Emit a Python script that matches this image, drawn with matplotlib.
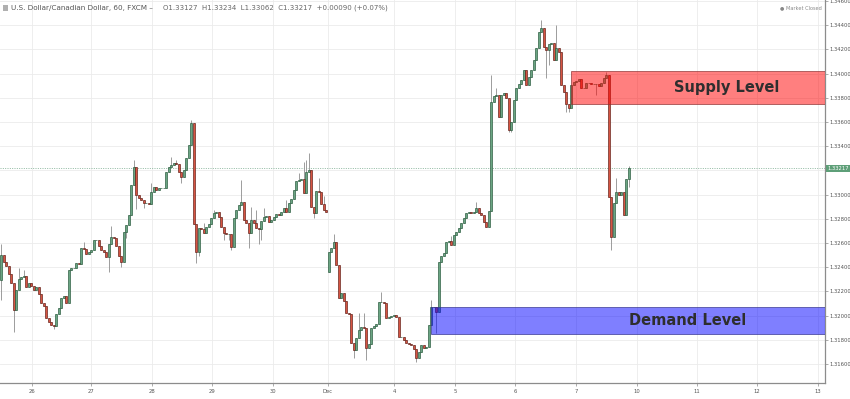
import matplotlib
matplotlib.use("Agg")
import matplotlib.pyplot as plt
from matplotlib.patches import Rectangle
import matplotlib.transforms as mtransforms

# ---------------- data (USD/CAD, 60 min, FXCM) ----------------
CLOSES = [
    # Nov 24 - 27
    1.32502, 1.32443, 1.32410, 1.32345, 1.32270, 1.32047, 1.32213, 1.32304, 1.32320, 1.32328,
    1.32237, 1.32270, 1.32245, 1.32213, 1.32237, 1.32180, 1.32105, 1.32080, 1.31981, 1.31948,
    1.31924, 1.31915, 1.32014, 1.32064, 1.32147, 1.32163, 1.32105, 1.32378, 1.32395, 1.32395,
    1.32435, 1.32427, 1.32560, 1.32552, 1.32510, 1.32527, 1.32543, 1.32626, 1.32626, 1.32576,
    1.32543, 1.32527, 1.32485, 1.32593, 1.32650, 1.32642, 1.32576, 1.32493, 1.32443, 1.32691,
    1.32749, 1.32832, 1.33080, 1.33229, 1.32998, 1.32973, 1.32956, 1.32931, 1.32931, 1.32923,
    1.33022, 1.33064, 1.33039, 1.33055, 1.33055,
    # Nov 28 - Dec 1
    1.33055, 1.33187, 1.33229, 1.33245, 1.33262, 1.33253, 1.33187, 1.33146, 1.33204, 1.33303,
    1.33411, 1.33592, 1.32758, 1.32527, 1.32725, 1.32716, 1.32683, 1.32733, 1.32758, 1.32807,
    1.32848, 1.32857, 1.32815, 1.32733, 1.32683, 1.32675, 1.32675, 1.32568, 1.32807, 1.32873,
    1.32914, 1.32939, 1.32791, 1.32766, 1.32683, 1.32791, 1.32766, 1.32725, 1.32716, 1.32783,
    1.32815, 1.32824, 1.32774, 1.32791, 1.32815, 1.32840, 1.32832, 1.32857, 1.32890, 1.32857,
    1.32931, 1.32964, 1.33039, 1.33113, 1.33121, 1.33130, 1.33014, 1.33187, 1.33204, 1.32898,
    1.32848, 1.33030, 1.33022, 1.32923, 1.32873, 1.32857,
    # Dec 4 - 5
    1.32527, 1.32560, 1.32609, 1.32419, 1.32147, 1.32188, 1.32122, 1.32022, 1.32014, 1.31775,
    1.31717, 1.31816, 1.31882, 1.31907, 1.31899, 1.31734, 1.31767, 1.31899, 1.31915, 1.31932,
    1.32113, 1.32113, 1.32105, 1.31981, 1.31990, 1.31998, 1.32006, 1.31990, 1.31825, 1.31825,
    1.31800, 1.31775, 1.31767, 1.31758, 1.31725, 1.31651, 1.31700, 1.31758, 1.31734, 1.31742,
    1.31924, 1.32072, 1.32072, 1.32031, 1.32443, 1.32493, 1.32518, 1.32609, 1.32617, 1.32584,
    1.32667, 1.32691, 1.32725, 1.32766, 1.32807, 1.32848, 1.32857, 1.32848, 1.32857, 1.32890,
    1.32848, 1.32832, 1.32774, 1.32733,
    # Dec 6 - 8
    1.32865, 1.33765, 1.33815, 1.33823, 1.33642, 1.33823, 1.33840, 1.33799, 1.33534, 1.33600,
    1.33782, 1.33881, 1.33914, 1.33947, 1.34030, 1.33906, 1.33972, 1.34030, 1.34112, 1.34212,
    1.34344, 1.34377, 1.34220, 1.34195, 1.34245, 1.34253, 1.34112, 1.34212, 1.34178, 1.33906,
    1.33848, 1.33749, 1.33716, 1.33906, 1.33931, 1.33939, 1.33955, 1.33881, 1.33881, 1.33922,
    1.33922, 1.33914, 1.33914, 1.33914, 1.33898, 1.33922, 1.33964, 1.33989, 1.32981, 1.32650,
    1.32931, 1.33022, 1.32998, 1.33022, 1.32832, 1.33127, 1.33217,
]
OPEN_FIRST = 1.32295
GAP_OPENS = {131: 1.32361}          # Monday open after the weekend gap

HIGH_WICKS = {
    0: 1.32592, 7: 1.32395, 9: 1.32378, 33: 1.32609, 44: 1.32741, 53: 1.33286,
    60: 1.33096, 68: 1.33311, 70: 1.33286, 76: 1.33617, 81: 1.32766, 85: 1.32873,
    96: 1.33121, 100: 1.32898, 102: 1.32873, 105: 1.32890, 114: 1.32956, 119: 1.33179,
    121: 1.33270, 122: 1.33286, 123: 1.33344, 127: 1.33138, 129: 1.32989, 133: 1.32675,
    143: 1.32022, 145: 1.32022, 152: 1.32196, 172: 1.32130, 180: 1.32658, 190: 1.32939,
    196: 1.33989, 198: 1.33881, 216: 1.34443, 222: 1.34402, 242: 1.34013, 246: 1.33138,
    251: 1.33234,
}
LOW_WICKS = {
    0: 1.32130, 5: 1.31866, 21: 1.31890, 43: 1.32362, 48: 1.32403, 50: 1.32642,
    54: 1.32882, 57: 1.32890, 72: 1.33096, 78: 1.32435, 79: 1.32493, 89: 1.32626,
    91: 1.32626, 92: 1.32543, 99: 1.32560, 103: 1.32593, 104: 1.32626, 125: 1.32808,
    141: 1.31651, 146: 1.31634, 166: 1.31617, 174: 1.31857, 203: 1.33518, 204: 1.33518,
    218: 1.33964, 219: 1.34071, 226: 1.33683, 227: 1.33683, 228: 1.33757, 238: 1.33823,
    244: 1.32543, 251: 1.33062,
}

DAY_TICK_POS = [12.3, 35.9, 60.3, 84.3, 108.7, 130.7, 157.1, 181.5, 205.5, 229.9,
                254.3, 278.3, 302.3, 326.7]
DAY_TICK_LABELS = ['26', '27', '28', '29', '30', 'Dec', '4', '5', '6', '7',
                   '10', '11', '12', '13']
PRICE_TICKS = [1.316, 1.318, 1.320, 1.322, 1.324, 1.326, 1.328, 1.330, 1.332,
               1.334, 1.336, 1.338, 1.340, 1.342, 1.344, 1.346]

SUPPLY_ZONE = (227.9, 1.33752, 1.34025)   # (start bar, low, high)
DEMAND_ZONE = (171.9, 1.31851, 1.32074)
LAST_PRICE = 1.33217

HEADER_NAME = "U.S. Dollar/Canadian Dollar, 60, FXCM"
HEADER_OHLC = "O1.33127  H1.33234  L1.33062  C1.33217  +0.00090 (+0.07%)"

# ---------------- derived OHLC ----------------
n = len(CLOSES)
opens = []
for i in range(n):
    if i == 0:
        opens.append(OPEN_FIRST)
    elif i in GAP_OPENS:
        opens.append(GAP_OPENS[i])
    else:
        opens.append(CLOSES[i - 1])
highs = [HIGH_WICKS.get(i, max(opens[i], CLOSES[i])) for i in range(n)]
lows = [LOW_WICKS.get(i, min(opens[i], CLOSES[i])) for i in range(n)]

UP_FILL, UP_EDGE = '#6BA583', '#225437'
DN_FILL, DN_EDGE = '#D75442', '#5B1A13'

fig = plt.figure(figsize=(8.5, 3.99), dpi=100)
ax = fig.add_axes([0.0, 16 / 399, 825 / 850, 383 / 399])

XMAX = 329.5
ax.set_xlim(-0.5, XMAX)
ax.set_ylim(1.31444, 1.34608)

# grid + ticks (the label under the last-price tag is hidden, as in the source)
ax.set_yticks(PRICE_TICKS)
ax.set_yticklabels(['' if abs(p - LAST_PRICE) < 0.0006 else f"{p:.5f}" for p in PRICE_TICKS])
ax.set_xticks(DAY_TICK_POS)
ax.set_xticklabels(DAY_TICK_LABELS)
ax.grid(True, color='#ebebeb', lw=0.6, zorder=0)
ax.set_axisbelow(True)

# wicks
idx = list(range(n))
ax.vlines(idx, lows, highs, color='#9c9c9c', lw=0.7, zorder=2)

# bodies
bottoms = [min(o, c) for o, c in zip(opens, CLOSES)]
heights = [max(abs(c - o), 0.00003) for o, c in zip(opens, CLOSES)]
fills = [UP_FILL if c >= o else DN_FILL for o, c in zip(opens, CLOSES)]
edges = [UP_EDGE if c >= o else DN_EDGE for o, c in zip(opens, CLOSES)]
ax.bar(idx, heights, bottom=bottoms, width=0.62, color=fills, edgecolor=edges,
       linewidth=0.45, zorder=3)

# last price line
ax.axhline(LAST_PRICE, color='#7fae93', lw=0.6, ls=(0, (1.2, 1.6)), zorder=1)

# zones
sx, slo, shi = SUPPLY_ZONE
ax.add_patch(Rectangle((sx, slo), XMAX - sx, shi - slo, facecolor=(1, 0, 0, 0.5),
                       edgecolor=(0.55, 0.2, 0.2, 0.8), lw=0.6, zorder=4))
dx, dlo, dhi = DEMAND_ZONE
ax.add_patch(Rectangle((dx, dlo), XMAX - dx, dhi - dlo, facecolor=(0, 0, 1, 0.5),
                       edgecolor=(0.2, 0.2, 0.55, 0.8), lw=0.6, zorder=4))
ax.text(290.3, (slo + shi) / 2, "Supply Level", fontsize=10.5, fontweight='bold',
        color='#2e2e2e', ha='center', va='center', zorder=5)
ax.text(274.7, (dlo + dhi) / 2, "Demand Level", fontsize=10.5, fontweight='bold',
        color='#2e2e2e', ha='center', va='center', zorder=5)

# axes styling
for s in ('left', 'top'):
    ax.spines[s].set_visible(False)
for s in ('right', 'bottom'):
    ax.spines[s].set_color('#8c8c8c')
    ax.spines[s].set_linewidth(0.9)
ax.yaxis.tick_right()
ax.tick_params(axis='y', labelsize=3.8, colors='#8c8c8c', labelcolor='#555555',
               length=2, width=0.5, pad=1.5)
ax.tick_params(axis='x', labelsize=3.8, colors='#8c8c8c', labelcolor='#555555',
               length=2, width=0.5, pad=2.5)

# last price tag
trans = mtransforms.blended_transform_factory(ax.transAxes, ax.transData)
ax.text(1.003, LAST_PRICE, f"{LAST_PRICE:.5f}", transform=trans, fontsize=3.8,
        color='white', ha='left', va='center', zorder=6, clip_on=False,
        bbox=dict(boxstyle='square,pad=0.25', facecolor='#5e9f78', edgecolor='none'))

# header
fig.add_artist(Rectangle((3 / 850, 1 - 11 / 399), 5 / 850, 6 / 399,
                         transform=fig.transFigure, facecolor='#b0b0b0', edgecolor='none'))
fig.text(11 / 850, 1 - 8 / 399, HEADER_NAME + " \u2013", fontsize=5.2, color='#555555',
         va='center', ha='left')
fig.text(163 / 850, 1 - 8 / 399, HEADER_OHLC, fontsize=5.0, color='#666666',
         va='center', ha='left')
fig.text(822 / 850, 1 - 8 / 399, "\u25cf Market Closed", fontsize=3.6, color='#888888',
         va='center', ha='right')

fig.savefig("out.png", dpi=100, facecolor='white')
